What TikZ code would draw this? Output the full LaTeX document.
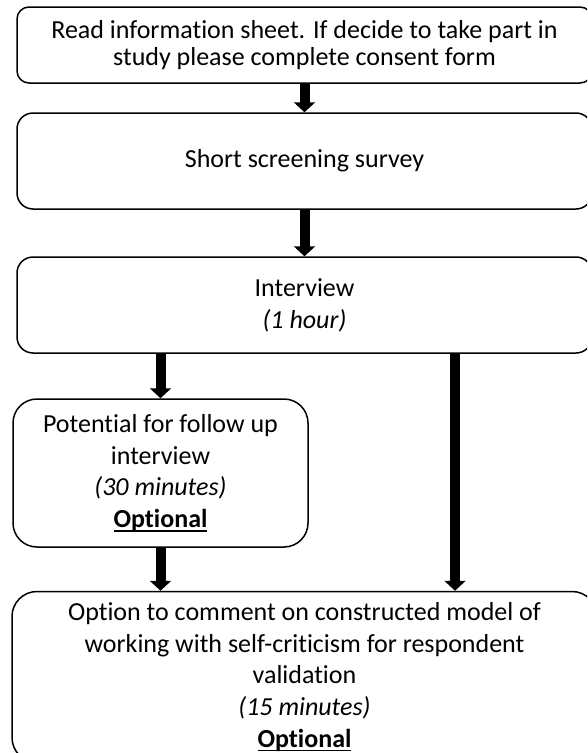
\documentclass[tikz,border=0pt]{standalone}
\usepackage{fontspec}
\setmainfont{Carlito}[RawFeature=-liga]
\usetikzlibrary{arrows.meta}

% bold word with a heavy underline close under the baseline
\newcommand\heavyul[1]{\setbox0\hbox{#1}\rlap{\rule[-4pt]{\wd0}{1.8pt}}\box0}

\tikzset{
  stage/.style={draw=black, line width=1.5pt, fill=white, align=center,
    inner sep=0pt, font=\fontsize{26}{31.7}\selectfont},
  flow/.style={line width=10pt, -{Triangle[width=21pt,length=10pt]}}
}

\begin{document}
\begin{tikzpicture}[x=1pt, y=-1pt]
  \useasboundingbox (0,0) rectangle (587,753);
  \clip (0,0) rectangle (587,753);

  \node[stage, rounded corners=12pt, minimum width=575pt, minimum height=76pt,
        font=\fontsize{26}{27}\selectfont]
    (b1) at (304.5,45)
    {Read information sheet. If decide to take part in\\study please complete consent form};

  \node[stage, rounded corners=16pt, minimum width=575pt, minimum height=96pt]
    (b2) at (304.5,161) {Short screening survey};

  \node[stage, rounded corners=16pt, minimum width=575pt, minimum height=96pt]
    (b3) at (304.5,305) {Interview\\\textit{(1 hour)}};

  \node[stage, rounded corners=24pt, minimum width=295pt, minimum height=148pt]
    (b4) at (160.5,473)
    {Potential for follow up\\interview\\\textit{(30 minutes)}\\\heavyul{\textbf{Optional}}};

  \node[stage, rounded corners=25pt, minimum width=585pt, minimum height=171pt]
    (b5) at (304.5,677)
    {Option to comment on constructed model of\\working with self-criticism for respondent\\validation\\\textit{(15 minutes)}\\\heavyul{\textbf{Optional}}};

  % column of the direct path from the interview to the last stage
  \coordinate (direct) at (455,0);

  \draw[flow] (b1.south) -- (b2.north);
  \draw[flow] (b2.south) -- (b3.north);
  \draw[flow] (b4.north |- b3.south) -- (b4.north);
  \draw[flow] (direct |- b3.south) -- (direct |- b5.north);
  \draw[flow] (b4.south) -- (b4.south |- b5.north);
\end{tikzpicture}
\end{document}
